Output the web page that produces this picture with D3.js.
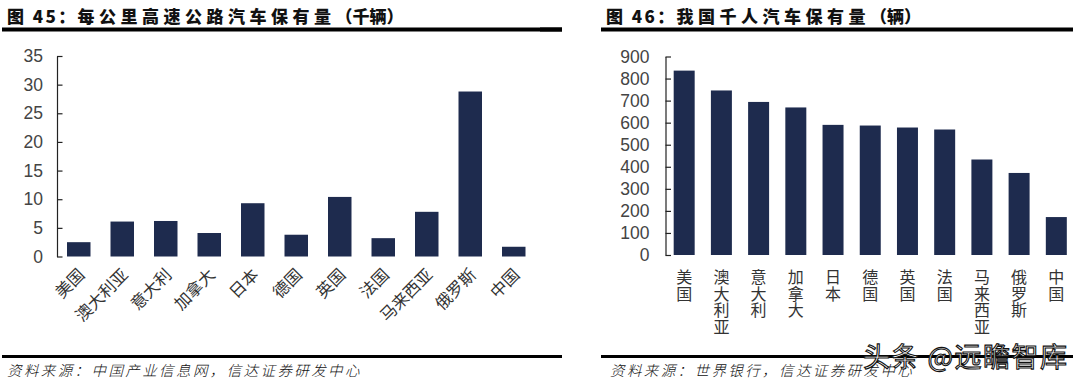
<!DOCTYPE html>
<html><head><meta charset="utf-8">
<script src="https://cdn.jsdelivr.net/npm/d3@7"></script>
<style>
html,body{margin:0;padding:0;background:#fff;}
svg{display:block;}
</style></head>
<body>
<svg id="c" width="1073" height="382"></svg>
<script>
const categories = ["美国","澳大利亚","意大利","加拿大","日本","德国","英国","法国","马来西亚","俄罗斯","中国"];
const highwayValues = [2.5, 6.1, 6.2, 4.1, 9.3, 3.8, 10.4, 3.2, 7.8, 28.8, 1.7];
const perThousandValues = [836, 746, 694, 669, 590, 587, 578, 569, 433, 372, 172];
const leftTicks = [0,5,10,15,20,25,30,35];
const rightTicks = [0,100,200,300,400,500,600,700,800,900];
const title1 = ["图 45：", "每公里高速公路汽车保有量", "（千辆）"];
const title2 = ["图 46：", "我国千人汽车保有量", "（辆）"];
const source1 = "资料来源：中国产业信息网，信达证券研发中心";
const source2 = "资料来源：世界银行，信达证券研发中心";
const watermark = "头条 @远瞻智库";

const svg = d3.select("#c");
const barColor = "#1e2b4e";
const cjk = "'Noto Sans CJK SC','Noto Sans',sans-serif";
const latin = "'Liberation Sans',Arial,sans-serif";

function panel(opts){
  const g = svg.append("g");
  const t = g.append("text").attr("x", opts.titleX).attr("y", 15)
    .attr("dominant-baseline","central")
    .style("font-family", cjk).style("font-weight", 900)
    .style("font-size","17px").attr("fill","#111");
  const ls = ["2.4px","4.5px","0px"];
  opts.title.forEach((s,i)=>t.append("tspan").style("letter-spacing", ls[i]).text(s));
  g.append("rect").attr("x", opts.ruleX0).attr("y", 27.5).attr("width", opts.ruleX1-opts.ruleX0).attr("height", 4).attr("fill","#000");
  g.append("rect").attr("x", opts.ruleX0).attr("y", 355).attr("width", opts.ruleX1-opts.ruleX0).attr("height", 3).attr("fill","#000");
  g.append("text").attr("x", opts.sourceX).attr("y", 369)
    .attr("dominant-baseline","central")
    .style("font-family", cjk).style("font-style","italic").style("font-weight",300)
    .style("font-size","14.5px").style("letter-spacing","2.4px").attr("fill","#111")
    .text(opts.source);

  const x = d3.scaleBand().domain(categories).range(opts.xRange)
    .paddingInner(opts.pin).paddingOuter(opts.pout);
  const y = d3.scaleLinear().domain(opts.yDomain).range(opts.yRange);

  g.selectAll("rect.bar").data(opts.values).join("rect").attr("class","bar")
    .attr("x",(d,i)=>x(categories[i])).attr("width", x.bandwidth())
    .attr("y", d=>y(d)).attr("height", d=>y(0)-y(d)).attr("fill", barColor);

  const ax = g.append("g").attr("transform",`translate(${opts.xRange[0]},0)`)
    .call(d3.axisLeft(y).tickValues(opts.ticks).tickSize(-5.5).tickSizeOuter(0).tickPadding(opts.pad));
  ax.select(".domain").attr("stroke","#222").attr("stroke-width",1.2);
  ax.selectAll(".tick line").attr("stroke","#222").attr("stroke-width",1.2);
  ax.selectAll(".tick text").style("font-family",latin).style("font-size","17.5px").attr("fill","#444");

  return {g,x,y};
}

// left
const L = panel({
  title: title1, source: source1, titleX: 7, sourceX: 7, ruleX0: 2, ruleX1: 562,
  xRange: [57, 535.5], pin: 0.46, pout: 0.23,
  yDomain: [0,35], yRange: [256.5, 56], ticks: leftTicks, pad: 14,
  values: highwayValues
});
L.g.selectAll("text.xl").data(categories).join("text").attr("class","xl")
  .attr("transform", d=>`translate(${L.x(d)+L.x.bandwidth()/2+2},${271}) rotate(-45)`)
  .attr("text-anchor","end").attr("dominant-baseline","central")
  .style("font-family",cjk).style("font-size","16.5px").attr("fill","#333")
  .text(d=>d);

// right
const R = panel({
  title: title2, source: source2, titleX: 606, sourceX: 610, ruleX0: 601, ruleX1: 1073,
  xRange: [665.5, 1075], pin: 0.436, pout: 0.22,
  yDomain: [0,900], yRange: [255, 56.5], ticks: rightTicks, pad: 16,
  values: perThousandValues
});
svg.append("rect").attr("x",540).attr("y",27.5).attr("width",22).attr("height",4).attr("fill","#000");

R.g.selectAll("text.vl").data(categories).join("text").attr("class","vl")
  .attr("x", d=>R.x(d)+R.x.bandwidth()/2).attr("y", 269)
  .style("writing-mode","vertical-rl").style("text-orientation","upright")
  .style("font-family",cjk).style("font-size","16px").style("letter-spacing","0.7px")
  .attr("fill","#333")
  .text(d=>d);

// watermark
svg.append("text").attr("x",863).attr("y",367)
  .style("font-family",cjk).style("font-size","27px").style("letter-spacing","1.5px")
  .attr("fill","#fff").attr("stroke","#111").attr("stroke-width",1.1)
  .text(watermark);
</script>
</body></html>
